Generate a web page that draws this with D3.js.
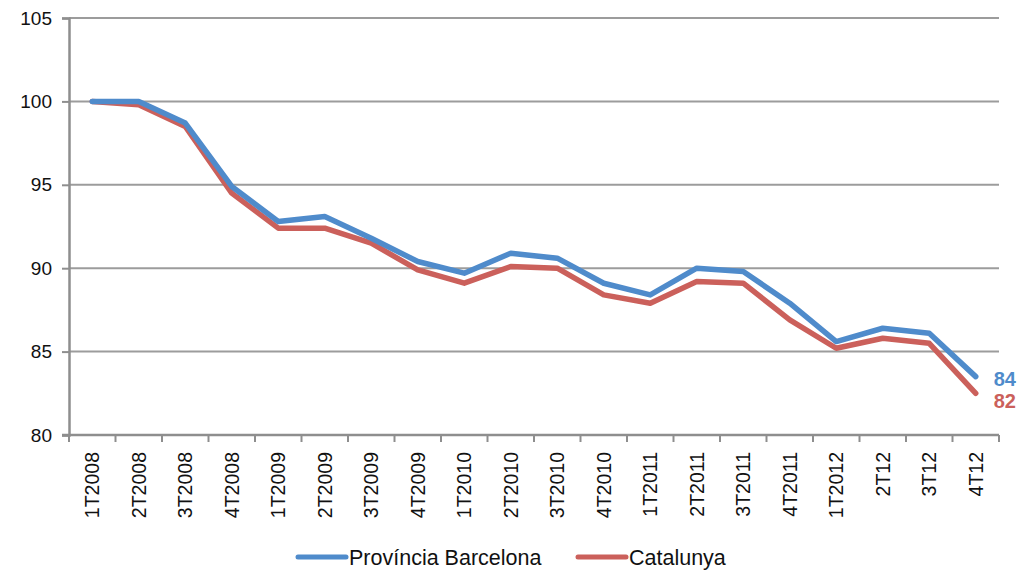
<!DOCTYPE html>
<html>
<head>
<meta charset="utf-8">
<script src="https://cdn.jsdelivr.net/npm/d3@7"></script>
<style>
  html, body { margin: 0; padding: 0; background: #fff; }
  svg { display: block; font-family: "Liberation Sans", Arial, Helvetica, sans-serif; }
</style>
</head>
<body>
<svg id="chart" width="1017" height="571"></svg>
<script>
const categories = ["1T2008","2T2008","3T2008","4T2008","1T2009","2T2009","3T2009","4T2009",
  "1T2010","2T2010","3T2010","4T2010","1T2011","2T2011","3T2011","4T2011","1T2012","2T12","3T12","4T12"];
const barcelona = [100, 100, 98.7, 94.9, 92.8, 93.1, 91.8, 90.4, 89.7, 90.9, 90.6, 89.1, 88.4, 90.0, 89.8, 87.9, 85.6, 86.4, 86.1, 83.5];
const catalunya = [100, 99.8, 98.5, 94.5, 92.4, 92.4, 91.5, 89.9, 89.1, 90.1, 90.0, 88.4, 87.9, 89.2, 89.1, 86.9, 85.2, 85.8, 85.5, 82.5];
const yTicks = [80, 85, 90, 95, 100, 105];
const seriesNames = ["Província Barcelona", "Catalunya"];
const endLabels = ["84", "82"];
const colors = ["#4f8bcb", "#cb605b"];

const svg = d3.select("#chart");
const mLeft = 69, mRight = 999, mTop = 18, mBottom = 435;

const x = d3.scaleBand().domain(categories).range([mLeft, mRight]).padding(0);
const y = d3.scaleLinear().domain([80, 105]).range([mBottom, mTop]);
const cx = c => x(c) + x.bandwidth() / 2;

// gridlines
svg.append("g").selectAll("line").data(yTicks.filter(t => t > 80)).join("line")
  .attr("x1", mLeft).attr("x2", mRight)
  .attr("y1", d => y(d)).attr("y2", d => y(d))
  .attr("stroke", "#9c9c9c").attr("stroke-width", 2);

// y axis
const yAxis = svg.append("g").attr("transform", `translate(${mLeft},0)`)
  .call(d3.axisLeft(y).tickValues(yTicks).tickSize(7).tickPadding(10));
yAxis.select(".domain").attr("stroke", "#8e8e8e").attr("stroke-width", 2.5);
yAxis.selectAll(".tick line").attr("stroke", "#8e8e8e").attr("stroke-width", 2);
yAxis.selectAll(".tick text").attr("font-size", 19).attr("fill", "#111")
  .attr("font-family", "Liberation Sans, Arial, sans-serif");

// x axis baseline
svg.append("line").attr("x1", mLeft - 7).attr("x2", mRight)
  .attr("y1", mBottom).attr("y2", mBottom)
  .attr("stroke", "#8e8e8e").attr("stroke-width", 2.5);

// boundary ticks
const bounds = categories.map(c => x(c)).concat([x(categories[categories.length - 1]) + x.bandwidth()]);
svg.append("g").selectAll("line").data(bounds).join("line")
  .attr("x1", d => d).attr("x2", d => d)
  .attr("y1", mBottom).attr("y2", mBottom + 7)
  .attr("stroke", "#8e8e8e").attr("stroke-width", 2);

// x labels
svg.append("g").selectAll("text").data(categories).join("text")
  .attr("transform", d => `translate(${cx(d) + 7},${mBottom + 17}) rotate(-90)`)
  .attr("text-anchor", "end")
  .attr("font-size", 19.5).attr("fill", "#111")
  .text(d => d);

// lines
const line = d3.line().x((d, i) => cx(categories[i])).y(d => y(d));
[catalunya, barcelona].forEach((s, k) => {
  const idx = 1 - k;
  svg.append("path").datum(s)
    .attr("fill", "none")
    .attr("stroke", colors[idx])
    .attr("stroke-width", 5.5)
    .attr("stroke-linejoin", "round")
    .attr("stroke-linecap", "round")
    .attr("d", line);
});

// end labels
[barcelona, catalunya].forEach((s, i) => {
  const last = categories[categories.length - 1];
  svg.append("text")
    .attr("x", cx(last) + 18)
    .attr("y", i === 0 ? y(s[s.length - 1]) + 9 : y(s[s.length - 1]) + 15)
    .attr("font-size", 20).attr("font-weight", "bold")
    .attr("fill", colors[i])
    .text(endLabels[i]);
});

// legend
const legendX = [298, 578];
seriesNames.forEach((n, i) => {
  const g = svg.append("g");
  g.append("line").attr("x1", legendX[i]).attr("x2", legendX[i] + 48)
    .attr("y1", 557).attr("y2", 557)
    .attr("stroke", colors[i]).attr("stroke-width", 5).attr("stroke-linecap", "round");
  g.append("text").attr("x", legendX[i] + 51).attr("y", 565)
    .attr("font-size", 21.5).attr("fill", "#111").text(n);
});
</script>
</body>
</html>
